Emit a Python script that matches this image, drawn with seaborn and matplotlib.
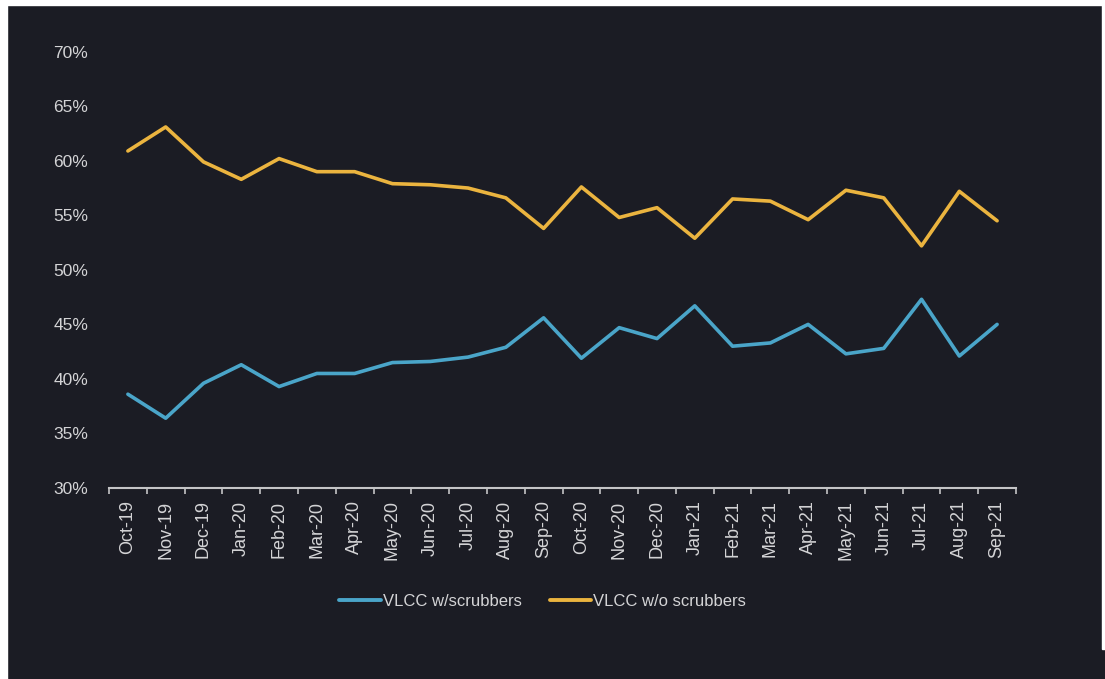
import matplotlib
matplotlib.use("Agg")
import matplotlib.pyplot as plt
from matplotlib.patches import Rectangle
from matplotlib.ticker import FixedLocator, FuncFormatter
import seaborn as sns
import pandas as pd

months = ["Oct-19", "Nov-19", "Dec-19", "Jan-20", "Feb-20", "Mar-20", "Apr-20", "May-20",
          "Jun-20", "Jul-20", "Aug-20", "Sep-20", "Oct-20", "Nov-20", "Dec-20", "Jan-21",
          "Feb-21", "Mar-21", "Apr-21", "May-21", "Jun-21", "Jul-21", "Aug-21", "Sep-21"]
with_scrubbers = [38.6, 36.4, 39.6, 41.3, 39.3, 40.5, 40.5, 41.5, 41.6, 42.0, 42.9, 45.6,
                  41.9, 44.7, 43.7, 46.7, 43.0, 43.3, 45.0, 42.3, 42.8, 47.3, 42.1, 45.0]
without_scrubbers = [60.9, 63.1, 59.9, 58.3, 60.2, 59.0, 59.0, 57.9, 57.8, 57.5, 56.6, 53.8,
                     57.6, 54.8, 55.7, 52.9, 56.5, 56.3, 54.6, 57.3, 56.6, 52.2, 57.2, 54.5]
series_names = ["VLCC w/scrubbers", "VLCC w/o scrubbers"]
y_ticks = [30, 35, 40, 45, 50, 55, 60, 65, 70]

BG = "#1b1c24"
FG = "#d4d4d6"
AXIS = "#c4c4c6"
palette = {series_names[0]: "#4aa5c9", series_names[1]: "#ebb43f"}

sns.set_theme(style="dark")
plt.rcParams["font.family"] = ["Liberation Sans", "DejaVu Sans"]

df = pd.DataFrame({
    "month": months * 2,
    "share": with_scrubbers + without_scrubbers,
    "series": [series_names[0]] * len(months) + [series_names[1]] * len(months),
})

fig = plt.figure(figsize=(11.05, 6.79), dpi=100, facecolor=BG)
ax = fig.add_axes([109 / 1105, 1 - 488 / 679, 907 / 1105, (488 - 51.7) / 679])
ax.set_facecolor(BG)

sns.lineplot(data=df, x="month", y="share", hue="series", palette=palette,
             linewidth=2.6, sort=False, ax=ax, legend=False)

n = len(months)
ax.set_xlim(-0.5, n - 0.5)
ax.set_ylim(y_ticks[0], y_ticks[-1])
ax.grid(False)

# category labels at the centres, tick marks on the boundaries
ax.set_xticks(range(n))
ax.set_xticklabels(months, rotation=90, color=FG, fontsize=13)
ax.xaxis.set_minor_locator(FixedLocator([i - 0.5 for i in range(n + 1)]))
ax.tick_params(axis="x", which="major", length=0, pad=9)
ax.tick_params(axis="x", which="minor", bottom=True, length=4, width=1.2, color=AXIS, direction="out")

ax.set_yticks(y_ticks)
ax.yaxis.set_major_formatter(FuncFormatter(lambda v, _: f"{v:.0f}%"))
ax.tick_params(axis="y", length=0, pad=15, labelcolor=FG, labelsize=12.5)

ax.set_xlabel("")
ax.set_ylabel("")
for side in ["top", "right", "left"]:
    ax.spines[side].set_visible(False)
ax.spines["bottom"].set_color(AXIS)
ax.spines["bottom"].set_linewidth(1.5)

handles = [plt.Line2D([], [], color=palette[s], linewidth=2.8) for s in series_names]
leg = fig.legend(handles, series_names, loc="center", bbox_to_anchor=(0.491, 1 - 601 / 679),
                 ncol=2, frameon=False, fontsize=12, handlelength=2.5, handletextpad=0.1,
                 columnspacing=1.7)
for t in leg.get_texts():
    t.set_color(FG)

# light margin along the top and sides of the canvas
fig.patches.extend([
    Rectangle((0, 1 - 5 / 679), 1, 5 / 679, transform=fig.transFigure, color="white", zorder=10),
    Rectangle((0, 0), 6.5 / 1105, 1, transform=fig.transFigure, color="white", zorder=10),
    Rectangle((1 - 3.5 / 1105, 30 / 679), 3.5 / 1105, 1, transform=fig.transFigure, color="white", zorder=10),
])

fig.savefig("out.png", dpi=100, facecolor=BG)
